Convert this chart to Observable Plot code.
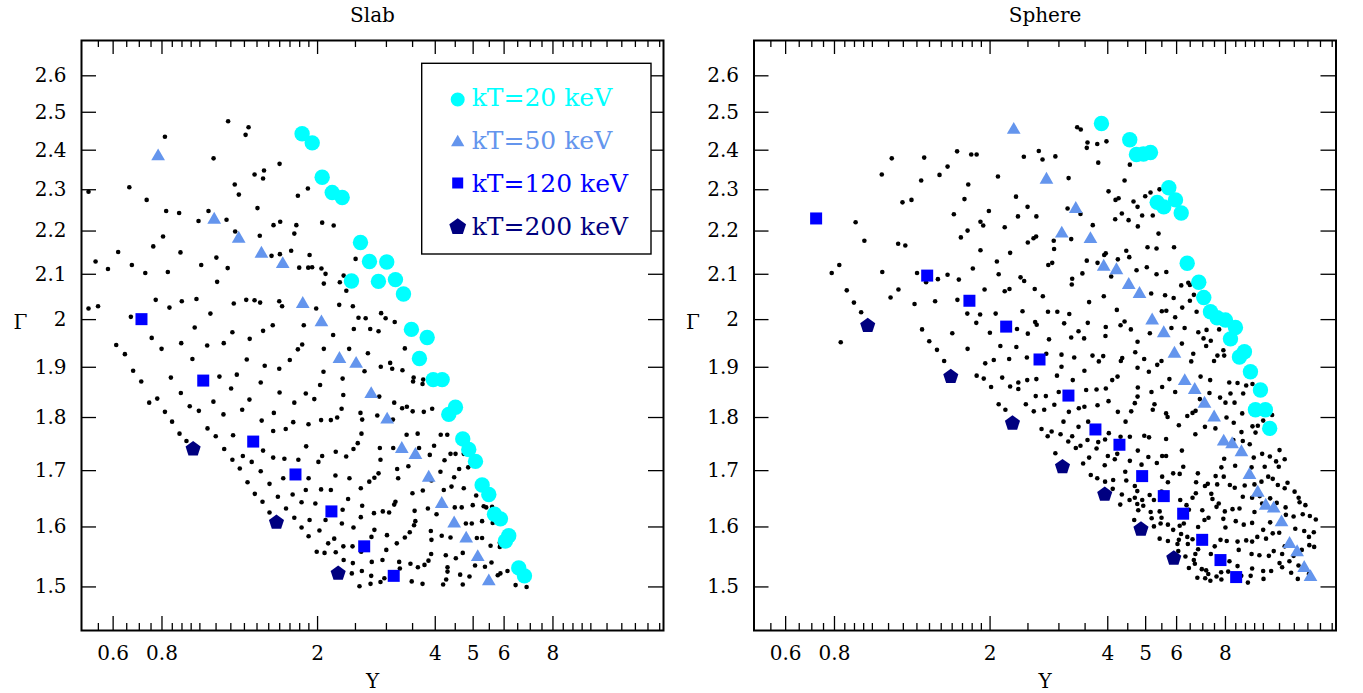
<!DOCTYPE html>
<html><head><meta charset="utf-8">
<script src="https://cdn.jsdelivr.net/npm/d3@7"></script>
<script src="https://cdn.jsdelivr.net/npm/@observablehq/plot@0.6"></script>
<style>
body{margin:0;background:#fff;}
#wrap{position:relative;width:1363px;height:693px;overflow:hidden;background:#fff;}
#wrap svg{position:absolute;top:0;}
</style></head><body><div id="wrap"></div>
<script>
// ---------------- data (Y, Gamma) ----------------
const panelTitles = ["Slab", "Sphere"];
const legendLabels = ["kT=20 keV", "kT=50 keV", "kT=120 keV", "kT=200 keV"];
const seriesColors = ["#00ffff", "#6495ed", "#0000ff", "#000080"];
const xMajorTicks = [0.6, 0.8, 2, 4, 5, 6, 8];
const xMinorTicks = [0.55,0.65,0.7,0.75,0.85,0.9,0.95,1,1.1,1.2,1.3,1.4,1.5,1.6,1.7,1.8,1.9,2.5,3,3.5,4.5,5.5,6.5,7,7.5,8.5,9,9.5,10,11,12,13,14,15];
const yTicks = [1.5,1.6,1.7,1.8,1.9,2,2.1,2.2,2.3,2.4,2.5,2.6];
const xDomain = [0.498, 15.34];
const yDomain = [1.4313, 2.7007];

const slab20 = [[1.826,2.443],[1.938,2.419],[2.055,2.331],[2.180,2.293],[2.312,2.281],[2.575,2.173],[2.715,2.129],[3.006,2.128],[2.442,2.085],[2.862,2.084],[3.164,2.088],[3.317,2.056],[3.476,1.979],[3.814,1.962],[3.644,1.918],[3.952,1.875],[4.166,1.875],[4.505,1.820],[4.331,1.806],[4.703,1.759],[4.872,1.739],[5.069,1.717],[5.272,1.674],[5.483,1.657],[5.669,1.622],[5.872,1.614],[6.166,1.585],[6.047,1.576],[6.540,1.531],[6.764,1.518]];
const slab50 = [[0.782,2.384],[1.088,2.227],[1.257,2.182],[1.437,2.147],[1.629,2.123],[1.833,2.034],[2.046,1.994],[2.275,1.917],[2.510,1.907],[2.743,1.846],[3.013,1.796],[3.284,1.740],[3.559,1.729],[3.849,1.687],[4.156,1.640],[4.471,1.606],[4.799,1.580],[5.137,1.549],[5.483,1.509]];
const slab120 = [[0.709,2.001],[1.020,1.873],[1.369,1.754],[1.756,1.693],[2.170,1.627],[2.632,1.567],[3.132,1.518]];
const slab200 = [[0.961,1.740],[1.570,1.608],[2.258,1.522]];

const sphere20 = [[3.854,2.470],[4.553,2.427],[4.736,2.389],[4.935,2.390],[5.144,2.394],[5.731,2.305],[5.961,2.275],[5.351,2.269],[5.563,2.258],[6.165,2.243],[6.386,2.125],[6.837,2.082],[7.041,2.048],[7.324,2.017],[7.617,2.004],[8.000,1.999],[8.485,1.983],[8.240,1.959],[8.945,1.932],[8.686,1.921],[9.268,1.891],[9.830,1.854],[9.545,1.815],[10.12,1.815],[10.38,1.779]];
const sphere50 = [[2.299,2.453],[2.788,2.325],[3.313,2.253],[3.051,2.194],[3.612,2.181],[3.906,2.117],[4.210,2.109],[4.526,2.076],[4.822,2.056],[5.195,1.998],[5.563,1.971],[5.924,1.928],[6.295,1.872],[6.676,1.854],[7.071,1.827],[7.484,1.800],[7.918,1.754],[8.320,1.749],[8.790,1.734],[9.215,1.692],[9.676,1.660],[10.14,1.637],[10.63,1.632],[11.13,1.608],[11.67,1.571],[12.20,1.557],[12.72,1.531],[13.20,1.516]];
const sphere120 = [[0.718,2.230],[1.381,2.097],[1.771,2.041],[2.199,1.985],[2.676,1.916],[3.173,1.843],[3.720,1.777],[4.285,1.748],[4.898,1.690],[5.563,1.654],[6.236,1.623],[6.975,1.578],[7.769,1.544],[8.521,1.516]];
const sphere200 = [[0.973,1.987],[1.587,1.881],[2.282,1.789],[3.064,1.707],[3.929,1.657],[4.864,1.596],[5.901,1.547]];

const slabGrid = [[1.181,2.476],[1.332,2.460],[1.309,2.440],[0.814,2.435],[1.084,2.379],[1.599,2.365],[1.380,2.338],[1.459,2.348],[1.451,2.328],[1.228,2.313],[1.258,2.288],[1.889,2.303],[1.781,2.285],[0.519,2.295],[0.660,2.306],[0.731,2.275],[0.820,2.248],[0.885,2.243],[1.052,2.248],[0.992,2.224],[1.170,2.227],[1.404,2.255],[1.543,2.214],[1.605,2.222],[1.765,2.214],[1.744,2.194],[1.231,2.199],[1.423,2.189],[0.805,2.187],[0.760,2.164],[0.618,2.151],[0.892,2.150],[0.541,2.129],[0.582,2.112],[0.670,2.121],[0.725,2.103],[0.828,2.105],[1.008,2.121],[1.102,2.138],[1.178,2.114],[1.525,2.142],[1.602,2.146],[1.712,2.154],[1.908,2.144],[1.795,2.115],[1.893,2.115],[1.107,2.083],[0.519,2.024],[0.549,2.029],[0.771,2.043],[0.836,2.026],[0.899,2.040],[0.980,2.045],[1.064,2.013],[1.221,2.035],[1.314,2.043],[1.380,2.042],[1.426,2.037],[1.596,2.040],[1.623,2.029],[0.666,2.006],[0.970,1.983],[1.211,1.973],[1.451,1.976],[1.536,1.988],[1.844,1.988],[0.753,1.961],[0.611,1.946],[0.798,1.938],[0.896,1.950],[1.044,1.945],[1.151,1.950],[1.341,1.959],[1.781,1.937],[1.827,1.947],
[2.055,2.220],[2.199,2.213],[2.502,2.135],[1.937,2.116],[2.046,2.113],[2.096,2.101],[2.075,2.079],[2.280,2.082],[2.332,2.097],[2.369,2.063],[1.984,2.024],[2.272,2.032],[2.462,2.029],[2.192,1.967],[2.545,2.004],[2.655,2.003],[2.908,2.014],[2.986,2.003],[3.150,1.995],[2.476,1.980],[2.727,1.980],[2.864,1.975],[2.075,1.938],[2.409,1.938],[3.344,1.939],
[0.643,1.927],[0.675,1.893],[0.708,1.871],[0.957,1.917],[1.318,1.916],[1.465,1.903],[1.596,1.897],[1.698,1.915],[0.843,1.879],[1.122,1.881],[1.243,1.885],[1.202,1.857],[1.431,1.869],[0.894,1.848],[0.742,1.829],[0.778,1.837],[0.814,1.811],[0.849,1.792],[0.887,1.769],[0.924,1.755],[0.942,1.822],[0.994,1.813],[1.083,1.831],[1.149,1.806],[1.283,1.815],[1.339,1.835],[1.599,1.849],[1.744,1.829],[1.866,1.847],[1.439,1.794],[1.546,1.809],[1.540,1.774],[1.658,1.778],[1.733,1.791],[1.896,1.787],[1.046,1.779],[1.098,1.764],[1.216,1.766],[1.154,1.740],[1.211,1.720],[1.288,1.727],[1.357,1.716],[1.265,1.704],[1.431,1.699],[1.451,1.737],[1.540,1.724],[1.645,1.722],[1.786,1.720],[1.870,1.745],[1.324,1.679],[1.382,1.658],[1.446,1.644],[1.507,1.625],[1.507,1.676],[1.583,1.653],[1.634,1.686],[1.661,1.632],[1.727,1.657],[1.820,1.643],[1.744,1.616],[1.820,1.599],[1.897,1.584],[1.897,1.686],[1.866,1.665],[1.908,1.612],
[2.690,1.929],[2.902,1.901],[3.067,1.909],[3.104,1.897],[3.297,1.894],[2.637,1.892],[2.071,1.891],[2.318,1.877],[3.522,1.879],[3.726,1.875],[3.510,1.871],[3.711,1.866],[2.030,1.864],[1.962,1.836],[2.327,1.844],[2.876,1.841],[3.141,1.829],[3.291,1.818],[3.384,1.821],[3.502,1.812],[3.739,1.811],[3.928,1.817],[2.304,1.817],[2.575,1.809],[2.601,1.796],[2.245,1.800],[2.163,1.795],[2.042,1.795],[2.843,1.804],[3.117,1.796],[2.590,1.769],[2.534,1.751],[2.471,1.740],[2.055,1.727],[2.010,1.716],[2.226,1.735],[2.367,1.726],[2.886,1.742],[2.897,1.720],[3.123,1.742],[3.379,1.767],[3.606,1.769],[3.636,1.742],[3.873,1.729],[3.972,1.746],[4.131,1.767],[4.293,1.767],[4.224,1.719],[4.376,1.731],[4.507,1.731],[4.731,1.731],[3.414,1.708],[3.196,1.703],[3.215,1.686],[2.864,1.695],[2.795,1.687],[2.712,1.680],[2.580,1.668],[2.413,1.686],[2.222,1.691],[2.042,1.666],[2.163,1.665],[1.974,1.641],[2.394,1.649],[2.601,1.637],[2.318,1.630],[2.580,1.617],[2.788,1.624],[2.937,1.627],[3.048,1.625],[3.164,1.644],[3.141,1.639],[3.542,1.628],[3.497,1.659],[3.717,1.664],[3.911,1.682],[4.124,1.698],[4.206,1.665],[4.401,1.671],[4.471,1.688],[4.604,1.703],[4.856,1.706],[4.731,1.668],[5.090,1.655],[4.487,1.634],[4.674,1.634],[4.988,1.638],[5.320,1.636],[5.400,1.634],[5.590,1.635],[3.830,1.632],[4.030,1.622],[2.022,1.594],[2.096,1.612],[2.308,1.606],[2.471,1.599],[2.747,1.583],[2.795,1.595],[3.010,1.586],[3.189,1.572],[3.344,1.582],[3.442,1.591],[3.530,1.603],[3.557,1.610],[3.897,1.593],[3.911,1.578],[4.155,1.585],[4.376,1.582],[4.790,1.606],[4.960,1.606],[5.270,1.610],[5.610,1.607],[5.110,1.581],[5.270,1.581],[5.540,1.568],[5.850,1.573],[5.850,1.566],[2.129,1.572],[2.206,1.580],[1.990,1.558],[2.084,1.556],[2.226,1.557],[2.328,1.567],[2.457,1.567],[2.586,1.558],[2.998,1.561],[2.332,1.544],[2.462,1.539],[2.596,1.526],[2.447,1.522],[2.752,1.541],[2.931,1.544],[3.234,1.541],[3.247,1.530],[3.456,1.538],[3.611,1.532],[3.754,1.536],[3.843,1.543],[3.904,1.554],[4.256,1.552],[4.515,1.547],[4.703,1.556],[4.299,1.532],[4.299,1.525],[4.266,1.512],[4.190,1.504],[4.632,1.520],[4.893,1.517],[5.056,1.535],[5.360,1.533],[5.570,1.540],[5.780,1.519],[5.870,1.522],[6.120,1.526],[6.420,1.503],[6.850,1.500],[2.743,1.518],[2.732,1.505],[2.560,1.501],[2.897,1.508],[2.964,1.514],[3.482,1.509],[3.711,1.505],[4.703,1.504]];

const sphereGrid = [[1.121,2.379],[1.357,2.381],[1.647,2.397],[1.790,2.389],[1.057,2.338],[1.333,2.323],[1.485,2.337],[1.557,2.358],[1.759,2.313],[1.720,2.277],[1.194,2.269],[1.259,2.275],[1.616,2.240],[0.906,2.221],[0.954,2.177],[1.164,2.170],[1.214,2.166],[1.684,2.185],[1.752,2.201],[0.823,2.121],[0.787,2.103],[1.060,2.105],[1.301,2.103],[1.372,2.082],[1.471,2.089],[1.557,2.099],[1.664,2.088],[0.860,2.064],[0.897,2.037],[0.936,2.016],[1.166,2.066],[1.113,2.048],[1.282,2.034],[1.447,2.040],[1.650,2.043],[1.749,2.013],[0.830,1.952],[1.340,1.979],[1.398,1.954],[1.601,1.971],[1.463,1.936],[1.752,1.938],[1.526,1.913],
[3.341,2.460],[3.412,2.454],[3.550,2.420],[3.535,2.406],[3.760,2.416],[3.969,2.423],[1.848,2.389],[2.440,2.383],[2.665,2.398],[2.724,2.376],[2.938,2.384],[3.782,2.368],[4.556,2.363],[2.095,2.333],[3.176,2.329],[4.416,2.323],[4.018,2.296],[4.187,2.275],[4.263,2.279],[4.655,2.271],[4.767,2.258],[2.330,2.283],[2.494,2.258],[2.357,2.235],[2.627,2.235],[1.986,2.248],[3.157,2.254],[3.406,2.241],[4.346,2.242],[4.179,2.228],[4.522,2.226],[4.775,2.211],[3.662,2.214],[1.890,2.222],[1.921,2.213],[2.180,2.209],[2.498,2.173],[2.583,2.183],[2.623,2.187],[2.910,2.177],[3.225,2.181],[2.916,2.158],[1.890,2.155],[2.251,2.149],[2.082,2.129],[1.807,2.113],[2.104,2.100],[2.818,2.121],[2.884,2.126],[3.535,2.131],[3.766,2.126],[3.917,2.144],[3.953,2.148],[4.245,2.134],[4.461,2.154],[4.540,2.139],[4.739,2.109],[4.082,2.095],[3.445,2.102],[3.244,2.090],[3.236,2.077],[2.393,2.093],[2.445,2.085],[1.936,2.066],[2.180,2.062],[2.242,2.067],[2.602,2.067],[2.729,2.051],[3.908,2.051],[3.584,2.038],[4.220,2.021],[1.886,2.011],[2.067,2.013],[2.421,2.018],[2.813,2.017],[2.972,2.017],[3.189,2.012],[1.844,1.993],[1.998,1.972],[2.608,1.995],[2.632,1.989],[2.344,1.980],[2.498,1.970],[3.094,1.992],[3.556,1.993],[3.367,1.975],[3.225,1.962],[3.480,1.960],[3.953,1.984],[3.946,1.965],[4.313,1.988],[4.416,1.996],[4.583,1.979],[4.767,1.953],[2.830,1.958],[2.125,1.944],[2.335,1.942],
[5.425,2.301],[5.145,2.293],[4.987,2.284],[4.898,2.237],[5.214,2.237],[5.394,2.194],[5.055,2.162],[5.331,2.159],[5.910,2.162],[5.034,2.116],[5.331,2.100],[5.647,2.105],[6.166,2.075],[6.427,2.081],[6.488,2.076],[6.642,2.054],[5.606,2.053],[5.896,2.047],[6.488,2.041],[5.166,2.057],[6.202,2.026],[6.750,2.017],[5.500,2.018],[5.647,2.019],[5.950,2.005],[6.290,1.982],[5.820,1.982],[5.125,1.971],[6.818,1.973],[7.157,1.978],[7.031,1.960],[7.338,1.955],[7.709,1.979],[7.140,1.944],[6.190,1.949],[7.902,1.935],
[1.944,1.908],[2.044,1.915],[2.238,1.917],[2.484,1.920],[2.785,1.928],[3.046,1.926],[3.046,1.901],[3.283,1.920],[3.656,1.924],[3.894,1.923],[3.795,1.912],[4.320,1.913],[4.356,1.919],[4.703,1.931],[4.767,1.899],[3.486,1.893],[1.848,1.883],[1.927,1.877],[2.148,1.879],[2.012,1.860],[2.251,1.861],[2.362,1.869],[2.362,1.856],[2.489,1.874],[2.627,1.876],[2.966,1.883],[3.255,1.874],[4.106,1.874],[4.237,1.881],[4.775,1.859],[2.617,1.842],[2.778,1.842],[2.997,1.850],[3.522,1.854],[3.744,1.855],[3.955,1.857],[4.767,1.841],[4.691,1.828],[2.104,1.826],[2.189,1.815],[2.469,1.826],[2.587,1.812],[2.751,1.815],[2.920,1.825],[3.181,1.811],[3.373,1.818],[3.486,1.821],[3.766,1.824],[4.018,1.832],[4.245,1.811],[4.593,1.812],[3.082,1.792],[3.564,1.792],[4.442,1.792],[2.708,1.778],[2.874,1.773],[2.808,1.764],[3.029,1.768],[3.244,1.764],[3.170,1.754],[3.367,1.782],[3.550,1.757],[3.406,1.746],[3.314,1.742],[3.782,1.753],[3.937,1.758],[4.025,1.770],[4.313,1.763],[4.556,1.763],[3.744,1.741],[4.002,1.727],[4.230,1.731],[4.169,1.721],[4.775,1.737],[4.556,1.718],[2.938,1.732],[3.584,1.724],[3.460,1.713],[3.929,1.710],[3.619,1.692],[3.760,1.686],[3.937,1.680],[4.129,1.683],[4.434,1.698],[4.461,1.682],[4.691,1.672],[4.119,1.667],[4.346,1.657],[4.691,1.651],[4.548,1.647],[4.305,1.639],[4.787,1.629],[4.675,1.612],
[6.618,1.928],[6.540,1.912],[7.630,1.924],[7.940,1.924],[7.480,1.913],[5.489,1.913],[5.353,1.905],[5.095,1.891],[4.957,1.917],[5.750,1.876],[5.950,1.850],[5.510,1.860],[5.175,1.850],[5.267,1.826],[5.214,1.815],[5.640,1.808],[5.690,1.801],[6.080,1.785],[6.390,1.803],[6.590,1.809],[6.710,1.813],[6.880,1.836],[6.910,1.881],[7.310,1.874],[7.280,1.848],[7.750,1.839],[8.000,1.829],[8.440,1.829],[8.240,1.847],[8.590,1.868],[8.880,1.847],[9.040,1.863],[9.380,1.866],[9.310,1.882],[8.180,1.869],[7.090,1.782],[6.700,1.768],[7.540,1.779],[8.050,1.800],[8.400,1.790],[8.830,1.808],[9.380,1.783],[9.680,1.784],[9.550,1.771],[8.790,1.772],[8.380,1.757],[8.860,1.755],[9.230,1.749],[9.990,1.794],[10.53,1.805],[9.930,1.731],[9.450,1.724],[10.39,1.726],[10.78,1.717],[11.00,1.738],[11.34,1.721],[10.95,1.707],[10.08,1.707],[9.330,1.706],[8.470,1.709],[7.940,1.722],[7.810,1.706],[7.550,1.690],[7.210,1.676],[6.800,1.695],[6.730,1.679],[6.720,1.659],[6.590,1.651],[6.450,1.630],[6.190,1.737],[6.240,1.707],[5.880,1.695],[6.110,1.694],[5.700,1.679],[5.510,1.689],[5.490,1.662],[5.120,1.656],[5.250,1.647],[4.900,1.647],[4.930,1.637],[5.340,1.714],[5.510,1.727],[5.640,1.727],[5.080,1.725],[4.880,1.711],[5.640,1.759],[5.100,1.762],[4.960,1.765],[4.760,1.663],[4.760,1.640],[5.150,1.626],[5.430,1.627],[5.490,1.616],[5.180,1.615],[5.250,1.601],[5.460,1.606],[5.430,1.580],[5.700,1.604],[5.880,1.595],[6.110,1.602],[6.260,1.606],[6.360,1.638],[6.130,1.647],[7.090,1.672],[7.360,1.658],[7.410,1.649],[7.590,1.635],[7.240,1.616],[7.070,1.612],[6.810,1.600],[6.390,1.583],[6.590,1.579],[6.810,1.562],[6.700,1.554],[6.410,1.571],[6.080,1.578],[6.160,1.588],[6.030,1.571],[5.700,1.576],[6.060,1.559],[6.320,1.550],[6.640,1.544],[6.680,1.538],[6.450,1.531],[6.960,1.529],[7.140,1.527],[7.230,1.521],[6.780,1.515],[7.100,1.514],[7.320,1.510],[7.590,1.517],[7.810,1.512],[7.800,1.524],[8.190,1.542],[8.130,1.525],[8.590,1.534],[8.780,1.518],[9.130,1.507],[9.280,1.518],[9.990,1.526],[10.01,1.513],[10.47,1.526],[11.00,1.539],[11.17,1.554],[11.66,1.542],[11.78,1.523],[12.25,1.513],[13.08,1.521],[12.30,1.535],[11.95,1.551],[12.54,1.561],[13.11,1.569],[13.49,1.566],[13.08,1.583],[13.46,1.591],[12.72,1.593],[12.07,1.597],[11.95,1.618],[11.42,1.621],[12.61,1.622],[13.15,1.619],[13.62,1.613],[12.81,1.638],[12.38,1.643],[12.02,1.662],[11.53,1.678],[12.31,1.651],[7.970,1.627],[7.900,1.614],[8.000,1.599],[8.340,1.631],[8.690,1.632],[8.500,1.610],[8.910,1.604],[9.490,1.626],[9.360,1.607],[9.990,1.595],[10.41,1.608],[10.57,1.589],[10.98,1.590],[10.16,1.580],[9.650,1.583],[9.360,1.575],[9.040,1.577],[8.590,1.575],[8.060,1.576],[7.770,1.578],[7.510,1.567],[7.340,1.554],[7.650,1.549],[8.650,1.561],[9.330,1.554],[9.770,1.552],[10.33,1.551],[10.63,1.559],[11.34,1.567],[11.17,1.532],[9.360,1.530],[7.620,1.675],[7.920,1.689],[8.210,1.674],[8.450,1.669],[8.960,1.673],[9.490,1.675],[9.890,1.680],[10.29,1.689],[10.57,1.685],[10.89,1.674],[11.34,1.668],[8.860,1.653],[9.360,1.651],[9.790,1.654],[9.930,1.641],[10.41,1.650],[10.82,1.642],[11.40,1.634],[7.690,1.641],[6.980,1.629]];

// ---------------- drawing ----------------
const pentagon = {
  draw(ctx, size) {
    const R = Math.sqrt(size / (2.5 * Math.sin(2 * Math.PI / 5)));
    for (let k = 0; k < 5; ++k) {
      const a = -Math.PI / 2 + k * 2 * Math.PI / 5;
      const px = R * Math.cos(a), py = R * Math.sin(a);
      if (k === 0) ctx.moveTo(px, py); else ctx.lineTo(px, py);
    }
    ctx.closePath();
  }
};
const FONT = "'DejaVu Serif', serif";

function panel(title, grid, s20, s50, s120, s200, mL, mR) {
  const W = 671, H = 693, mT = 40, mB = 63;
  const fw = W - mL - mR, fh = H - mT - mB;
  const X = d => d[0], Y = d => d[1];
  return Plot.plot({
    width: W, height: H, marginLeft: mL, marginRight: mR, marginTop: mT, marginBottom: mB,
    x: {type: "log", domain: xDomain, axis: null},
    y: {type: "log", domain: yDomain, axis: null},
    style: {fontFamily: FONT, fontSize: "20px", color: "black", background: "transparent", overflow: "visible"},
    marks: [
      // ticks (inward, all four sides)
      Plot.ruleX(xMajorTicks, {x: d => d, insetTop: fh - 14, stroke: "black", strokeWidth: 1.3}),
      Plot.ruleX(xMinorTicks, {x: d => d, insetTop: fh - 7, stroke: "black", strokeWidth: 1.3}),
      Plot.ruleX(xMajorTicks, {x: d => d, insetBottom: fh - 14, stroke: "black", strokeWidth: 1.3}),
      Plot.ruleX(xMinorTicks, {x: d => d, insetBottom: fh - 7, stroke: "black", strokeWidth: 1.3}),
      Plot.ruleY(yTicks, {y: d => d, insetRight: fw - 15, stroke: "black", strokeWidth: 1.3}),
      Plot.ruleY(yTicks, {y: d => d, insetLeft: fw - 15, stroke: "black", strokeWidth: 1.3}),
      Plot.frame({stroke: "black", strokeWidth: 2}),
      // tick labels
      Plot.text(xMajorTicks, {x: d => d, text: d => String(d), frameAnchor: "bottom", lineAnchor: "middle", dy: 23, fontSize: 20}),
      Plot.text(yTicks, {y: d => d, text: d => String(d), frameAnchor: "left", lineAnchor: "middle", dx: -15, textAnchor: "end", fontSize: 20}),
      // titles
      Plot.text([title], {text: d => d, frameAnchor: "top", lineAnchor: "middle", dy: -25, fontSize: 20}),
      Plot.text(["Y"], {text: d => d, frameAnchor: "bottom", lineAnchor: "middle", dy: 51, fontSize: 20}),
      Plot.text(["\u0393"], {text: d => d, frameAnchor: "left", lineAnchor: "middle", textAnchor: "middle", dx: -61, dy: -13, fontSize: 20}),
      // data
      Plot.dot(grid, {x: X, y: Y, r: 2.3, fill: "black"}),
      Plot.dot(s20, {x: X, y: Y, r: 7.7, fill: seriesColors[0], symbol: "circle"}),
      Plot.dot(s50, {x: X, y: Y, r: 5.1, fill: seriesColors[1], symbol: "triangle"}),
      Plot.dot(s120, {x: X, y: Y, r: 6.77, fill: seriesColors[2], symbol: "square"}),
      Plot.dot(s200, {x: X, y: Y, r: 6.9, fill: seriesColors[3], symbol: pentagon})
    ]
  });
}

const wrap = document.getElementById("wrap");
const left = panel(panelTitles[0], slabGrid, slab20, slab50, slab120, slab200, 81, 8);
left.style.left = "0px";
wrap.appendChild(left);
const right = panel(panelTitles[1], sphereGrid, sphere20, sphere50, sphere120, sphere200, 81.5, 7.5);
right.style.left = "672px";
wrap.appendChild(right);

// legend (left panel, top right)
const leg = d3.select(wrap).append("svg")
  .attr("width", 234).attr("height", 196)
  .style("left", "420px").style("top", "62px");
leg.append("rect").attr("x", 1.7).attr("y", 1.3).attr("width", 229.3).attr("height", 190.7)
  .attr("fill", "white").attr("stroke", "black").attr("stroke-width", 1.4);
const legSymbols = [d3.symbolCircle, d3.symbolTriangle, d3.symbolSquare, pentagon];
const legSizes = [154, 77, 121, 184];
const rowY = [37.5, 80.5, 121, 165];
const baseY = [44, 87, 130, 172.5];
legendLabels.forEach((lab, i) => {
  leg.append("path").attr("transform", `translate(37.7,${rowY[i]})`)
    .attr("d", d3.symbol(legSymbols[i], legSizes[i])()).attr("fill", seriesColors[i]);
  leg.append("text").attr("x", 51.7).attr("y", baseY[i]).attr("fill", seriesColors[i])
    .attr("font-family", FONT).attr("font-size", 25).text(lab);
});
</script></body></html>
